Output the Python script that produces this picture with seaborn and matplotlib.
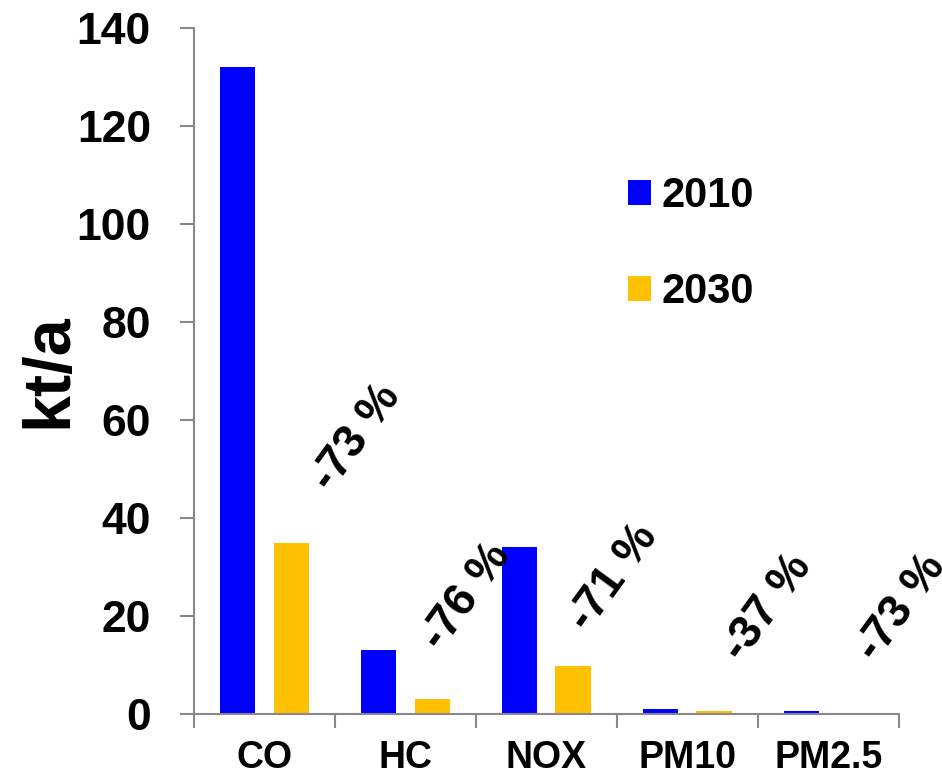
import matplotlib
matplotlib.use("Agg")
import matplotlib.pyplot as plt
import seaborn as sns
import pandas as pd

# Emissions by pollutant, kt per year
pollutants = ["CO", "HC", "NOX", "PM10", "PM2.5"]
years = ["2010", "2030"]
values_2010 = [132.0, 13.0, 34.0, 1.1, 0.6]
values_2030 = [35.0, 3.1, 9.8, 0.69, 0.16]
change_pct = [-73, -76, -71, -37, -73]
y_ticks = [0, 20, 40, 60, 80, 100, 120, 140]

palette = {"2010": "#0000FF", "2030": "#FFC000"}

df = pd.DataFrame({
    "pollutant": pollutants * 2,
    "year": [years[0]] * len(pollutants) + [years[1]] * len(pollutants),
    "kt": values_2010 + values_2030,
})

sns.set_theme(style="white")
plt.rcParams["font.family"] = ["Liberation Sans", "DejaVu Sans"]
plt.rcParams["font.weight"] = "bold"
plt.rcParams["text.color"] = "black"
plt.rcParams["axes.labelcolor"] = "black"
plt.rcParams["xtick.color"] = "black"
plt.rcParams["ytick.color"] = "black"

fig = plt.figure(figsize=(9.42, 7.77), dpi=100)
ax = fig.add_axes([0.206, 0.081, 0.748, 0.883])

sns.barplot(data=df, x="pollutant", y="kt", hue="year", order=pollutants,
            hue_order=years, palette=palette, width=0.76, gap=0.34,
            linewidth=0, saturation=1, ax=ax)

ax.set_xlim(-0.5, len(pollutants) - 0.5)
ax.set_ylim(0, 140)
ax.set_yticks(y_ticks)
ax.set_yticklabels([str(t) for t in y_ticks], fontsize=32, fontweight="bold")
ax.set_xticks(range(len(pollutants)))
ax.set_xticklabels(pollutants, fontsize=27, fontweight="bold")
ax.set_xticks([i - 0.5 for i in range(len(pollutants) + 1)], minor=True)

grey = "#888888"
for side in ["top", "right"]:
    ax.spines[side].set_visible(False)
for side in ["left", "bottom"]:
    ax.spines[side].set_color(grey)
    ax.spines[side].set_linewidth(1.5)

ax.tick_params(axis="x", which="major", length=0, pad=19, labelcolor="black")
ax.tick_params(axis="x", which="minor", length=10, width=1.5, color=grey,
               direction="out", bottom=True)
ax.tick_params(axis="y", which="major", length=10, width=1.5, color=grey,
               direction="out", left=True, pad=21, labelcolor="black")

ax.set_xlabel("")
ax.set_ylabel("kt/a", fontsize=48, fontweight="bold", color="black")
ax.yaxis.set_label_coords(-0.162, 0.5)

# Relative change labels, placed above each pollutant group
label_offsets = [(0.65, 56.5), (1.43, 23.9), (2.48, 27.8), (3.57, 21.8), (4.52, 21.8)]
for pct, (lx, ly) in zip(change_pct, label_offsets):
    ax.text(lx, ly, f"{pct} %", rotation=54, rotation_mode="anchor",
            ha="center", va="center", fontsize=33, fontweight="bold",
            color="black", clip_on=False)

handles, labels = ax.get_legend_handles_labels()
ax.legend(handles, labels, loc="center left", bbox_to_anchor=(0.616, 0.685),
          frameon=False, prop={"weight": "bold", "size": 30},
          labelcolor="black",
          handlelength=0.54, handleheight=0.54, handletextpad=0.25,
          labelspacing=1.35, borderpad=0, borderaxespad=0)

fig.savefig("out.png", dpi=100)
